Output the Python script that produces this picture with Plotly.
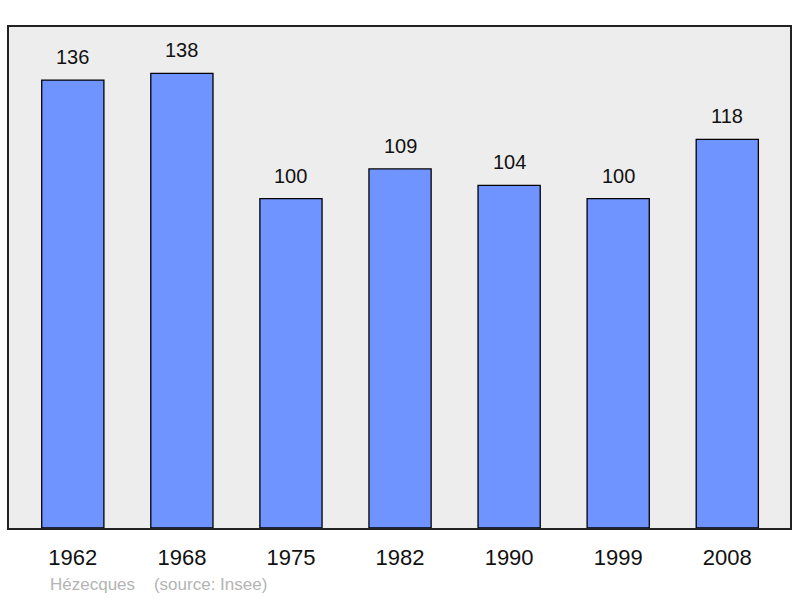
import plotly.graph_objects as go

# population by census year
years = ["1962", "1968", "1975", "1982", "1990", "1999", "2008"]
population = [136, 138, 100, 109, 104, 100, 118]

bar_color = "#7094ff"
frame_bg = "#ededed"
font_family = "Liberation Sans, Arial"

fig = go.Figure()
fig.add_trace(go.Bar(
    x=years,
    y=population,
    width=0.57,
    marker=dict(color=bar_color, line=dict(color="#000000", width=1.3)),
    hoverinfo="x+y",
))

# value labels above bars (x given as category index)
for i, val in enumerate(population):
    fig.add_annotation(x=i, y=val, text=str(val), showarrow=False,
                       yanchor="bottom", yshift=10,
                       font=dict(family=font_family, size=20, color="#111111"))

fig.add_annotation(x=0.05, y=-0.112, xref="paper", yref="paper",
                   text="Hézecques &nbsp;&nbsp;&nbsp;(source: Insee)",
                   showarrow=False, xanchor="left", yanchor="middle",
                   font=dict(family=font_family, size=17, color="#b4b4b4"))

fig.update_layout(
    width=800, height=598,
    margin=dict(l=9, r=8, t=27, b=70),
    paper_bgcolor="white",
    plot_bgcolor=frame_bg,
    showlegend=False,
    font=dict(family=font_family, color="#111111"),
)
fig.update_xaxes(
    type="category", range=[-0.585, 6.575],
    showline=True, linecolor="#222222", linewidth=2, mirror=True,
    showgrid=False, ticks="outside", ticklen=9, tickcolor="rgba(0,0,0,0)",
    tickfont=dict(size=22, family=font_family, color="#111111"),
)
fig.update_yaxes(
    range=[0, 152.1], showgrid=False, zeroline=False,
    showline=True, linecolor="#222222", linewidth=2, mirror=True,
    showticklabels=False, ticks="",
)

fig.write_html("out.html", config={"displayModeBar": False},
               post_script="document.body.style.margin='0';")
